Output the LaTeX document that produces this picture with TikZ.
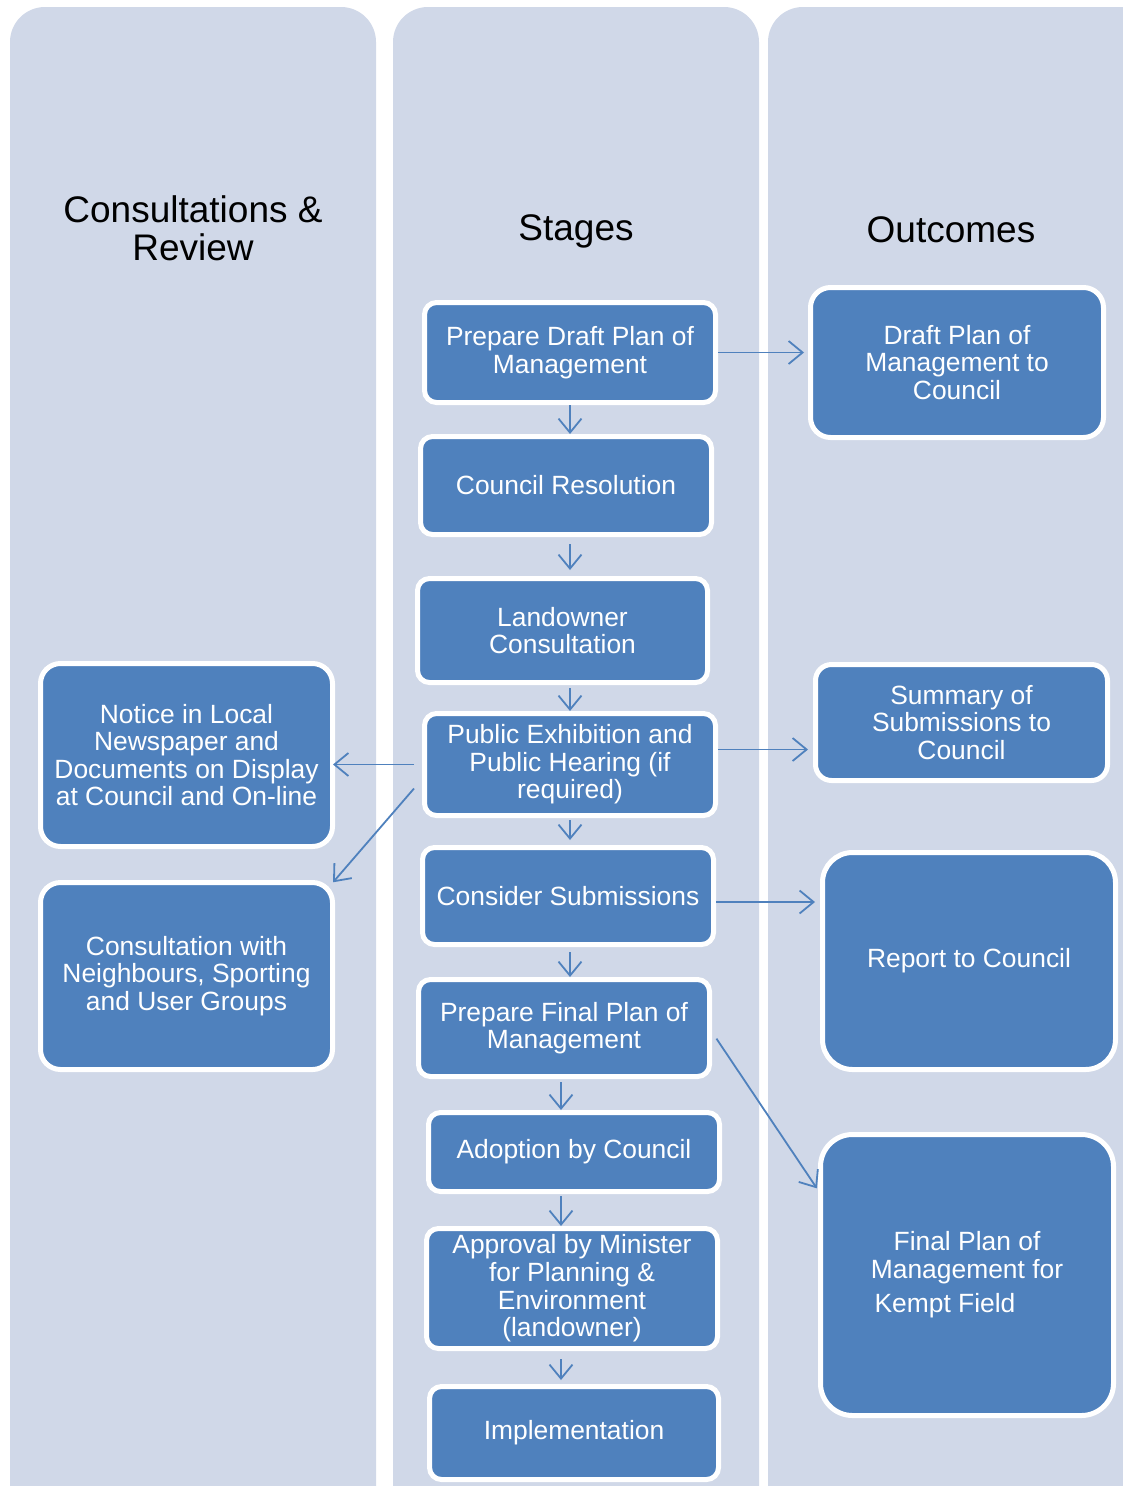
\documentclass[tikz,border=0pt]{standalone}
\usepackage{fontspec}
\setmainfont{Liberation Sans}
\usetikzlibrary{arrows.meta,calc}
\definecolor{colbg}{HTML}{D0D8E8}
\definecolor{boxblue}{HTML}{4F81BD}
\begin{document}
\begin{tikzpicture}[x=1pt,y=-1pt,
  box/.style={draw=white, line width=5pt, fill=boxblue, rounded corners=12pt, text=white,
    align=center, inner sep=0pt, font=\fontsize{26.4}{27.6}\selectfont},
  arr/.style={draw=boxblue, line width=1.8pt, -{Straight Barb[length=14pt,width=23pt]}},
  head/.style={font=\fontsize{37}{38}\selectfont, align=center, text=black},
  column/.style={fill=colbg, rounded corners=35pt}]
\useasboundingbox (0,0) rectangle (1123,1486);
\clip (0,0) rectangle (1123,1486);
\fill[white] (0,0) rectangle (1123,1486);
% columns
\path[column] (10,7) rectangle (376,1560);
\path[column] (393,7) rectangle (759,1560);
\path[column] (768,7) rectangle (1180,1560);
% headers
\node[head] (h1) at (193,228) {Consultations \&\\Review};
\node[head] (h2) at (576,231) {Stages};
\node[head] (h3) at (951,230) {Outcomes};
% stages
\node[box, minimum width=291, minimum height=100] (p1) at (570,352.5) {Prepare Draft Plan of\\Management};
\node[box, minimum width=291, minimum height=98] (p2) at (566,485.5) {Council Resolution};
\node[box, minimum width=290, minimum height=104] (p3) at (562.5,630.5) {Landowner\\Consultation};
\node[box, minimum width=291, minimum height=102] (p4) at (570,764.5) {Public Exhibition and\\Public Hearing (if\\required)};
\node[box, minimum width=291, minimum height=97] (p5) at (568,896) {Consider Submissions};
\node[box, minimum width=291, minimum height=97] (p6) at (564,1028) {Prepare Final Plan of\\Management};
\node[box, minimum width=291, minimum height=79] (p7) at (574,1152) {Adoption by Council};
\node[box, minimum width=291, minimum height=120] (p8) at (572,1288.5) {Approval by Minister\\for Planning \&\\Environment\\(landowner)};
\node[box, minimum width=289, minimum height=93] (p9) at (574,1433) {Implementation};
% consultations
\node[box, rounded corners=20pt, minimum width=292, minimum height=183] (c1) at (186.5,755) {Notice in Local\\Newspaper and\\Documents on Display\\at Council and On-line};
\node[box, rounded corners=20pt, minimum width=292, minimum height=187] (c2) at (186.5,976) {Consultation with\\Neighbours, Sporting\\and User Groups};
% outcomes
\node[box, rounded corners=20pt, minimum width=293, minimum height=150] (o1) at (957,362.5) {Draft Plan of\\Management to\\Council};
\node[box, rounded corners=16pt, minimum width=292, minimum height=116] (o2) at (961.5,722.5) {Summary of\\Submissions to\\Council};
\node[box, rounded corners=30pt, minimum width=293, minimum height=217] (o3) at (969,961) {Report to Council};
\node[box, rounded corners=32pt, minimum width=293, minimum height=281] (o4) at (967,1275) {Final Plan of\\Management for\\[7pt]\hspace*{-44pt}Kempt Field};
% connectors
\draw[arr, shorten >=4pt] (p1.east) -- (p1.east -| o1.west);
\draw[arr] (p1.south) -- (p1.south |- p2.north);
\draw[arr, shorten <=7pt, shorten >=6pt] (p2.south -| p1.south) -- (p3.north -| p1.south);
\draw[arr, shorten <=3pt] (p3.south -| p1.south) -- (p4.north -| p1.south);
\draw[arr, shorten >=-2pt] ([xshift=-8pt]p4.west) -- (p4.west -| c1.east);
\draw[arr, shorten >=-3pt] ([xshift=-8pt,yshift=-24pt]p4.west) -- (c2.north east);
\draw[arr, shorten >=5pt] ([yshift=15pt]p4.east) -- ([yshift=15pt]p4.east -| o2.west);
\draw[arr, shorten <=2pt, shorten >=5pt] (p4.south) -- (p4.south |- p5.north);
\draw[arr, shorten >=5pt] ([yshift=-6pt]p5.east) -- ([yshift=-6pt]p5.east -| o3.west);
\draw[arr, shorten <=5pt] (p5.south -| p1.south) -- (p6.north -| p1.south);
\draw[arr, shorten <=8pt, shorten >=2pt] ([yshift=-4pt]p6.east) -- ([yshift=85pt]o4.west);
\draw[arr, shorten <=3pt] ([xshift=-3pt]p6.south) -- ([xshift=-3pt]p6.south |- p7.north);
\draw[arr, shorten <=2pt] ([xshift=-3pt]p6.south |- p7.south) -- ([xshift=-3pt]p6.south |- p8.north);
\draw[arr, shorten <=8pt, shorten >=4pt] ([xshift=-3pt]p6.south |- p8.south) -- ([xshift=-3pt]p6.south |- p9.north);
\end{tikzpicture}
\end{document}
